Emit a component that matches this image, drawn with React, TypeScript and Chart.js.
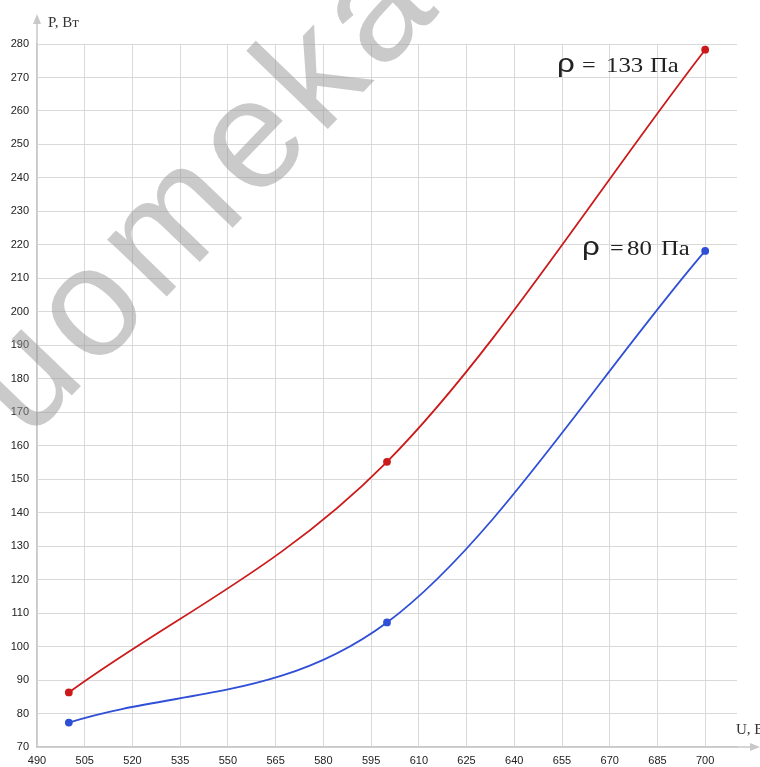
import React, { useEffect, useRef } from "react";
import { Chart, registerables } from "chart.js";

Chart.register(...registerables);

// Data
const voltages = [500, 600, 700]; // U, В
const power133 = [86.3, 155.2, 278.3]; // ρ = 133 Па
const power80 = [77.3, 107.2, 218.2]; // ρ = 80 Па

const xTickValues = [490, 505, 520, 535, 550, 565, 580, 595, 610, 625, 640, 655, 670, 685, 700];
const xMin = 490;
const xMax = 710;
const yMin = 70;
const yMax = 280;
const yStep = 10;

const yTitle = "P, Вт";
const xTitle = "U, В";
const label133 = ["ρ", "=", "133", "Па"];
const label80 = ["ρ", "=", "80", "Па"];
const watermark = "uomeka";

const decorPlugin = {
  id: "decor",
  afterDraw(chart: any) {
    const ctx = chart.ctx as CanvasRenderingContext2D;
    const { left, right, top, bottom } = chart.chartArea;
    ctx.save();

    // watermark
    ctx.save();
    ctx.translate(28, 441);
    ctx.rotate(-Math.PI / 4 - 0.02);
    ctx.font = '156px "Liberation Sans"';
    (ctx as any).letterSpacing = "8px";
    ctx.fillStyle = "rgba(150,150,150,0.5)";
    ctx.textAlign = "left";
    ctx.textBaseline = "alphabetic";
    ctx.fillText(watermark, 0, 0);
    (ctx as any).letterSpacing = "0px";
    ctx.restore();

    // axis arrows
    ctx.strokeStyle = "#c8c8c8";
    ctx.fillStyle = "#c8c8c8";
    ctx.lineWidth = 1.5;
    ctx.beginPath();
    ctx.moveTo(left, top);
    ctx.lineTo(left, 20);
    ctx.moveTo(right, bottom);
    ctx.lineTo(754, bottom);
    ctx.stroke();
    ctx.beginPath();
    ctx.moveTo(left, 14);
    ctx.lineTo(left - 4, 24);
    ctx.lineTo(left + 4, 24);
    ctx.closePath();
    ctx.fill();
    ctx.beginPath();
    ctx.moveTo(760, bottom);
    ctx.lineTo(750, bottom - 4);
    ctx.lineTo(750, bottom + 4);
    ctx.closePath();
    ctx.fill();

    // axis titles
    ctx.fillStyle = "#333";
    ctx.font = '15px "Liberation Serif"';
    ctx.textBaseline = "alphabetic";
    ctx.textAlign = "left";
    ctx.fillText(yTitle, 48, 27);
    ctx.fillText(xTitle, 736, 734);

    // series labels
    const part = (text: string, font: string, x: number, y: number, sx: number) => {
      ctx.save();
      ctx.translate(x, y);
      ctx.scale(sx, 1);
      ctx.font = font;
      ctx.fillText(text, 0, 0);
      ctx.restore();
    };
    const drawLabel = (parts: string[], xs: number[], y: number) => {
      ctx.fillStyle = "#222";
      part(parts[0], '25px "Liberation Sans"', xs[0], y, 1.25);
      part(parts[1], '22px "Liberation Serif"', xs[1], y, 1.1);
      part(parts[2], '22px "Liberation Serif"', xs[2], y, 1.13);
      part(parts[3], '22px "Liberation Serif"', xs[3], y, 1.12);
    };
    drawLabel(label133, [557, 582, 606, 650], 72);
    drawLabel(label80, [582, 610, 627, 661], 255);

    ctx.restore();
  },
};

export default function App() {
  const ref = useRef<HTMLCanvasElement | null>(null);
  useEffect(() => {
    if (!ref.current) return;
    const chart = new Chart(ref.current, {
      type: "scatter",
      data: {
        datasets: [
          {
            label: "ρ = 133 Па",
            data: voltages.map((x, i) => ({ x, y: power133[i] })),
            showLine: true,
            borderColor: "#cc1a1a",
            backgroundColor: "#cc1a1a",
            borderWidth: 1.8,
            pointRadius: 3,
            pointHoverRadius: 3,
            cubicInterpolationMode: "monotone",
          },
          {
            label: "ρ = 80 Па",
            data: voltages.map((x, i) => ({ x, y: power80[i] })),
            showLine: true,
            borderColor: "#2f4fd6",
            backgroundColor: "#2f4fd6",
            borderWidth: 1.8,
            pointRadius: 3,
            pointHoverRadius: 3,
            cubicInterpolationMode: "monotone",
          },
        ],
      },
      options: {
        animation: false,
        responsive: false,
        maintainAspectRatio: false,
        layout: { padding: { top: 44, right: 23, left: 0, bottom: 0 } },
        plugins: { legend: { display: false }, tooltip: { enabled: false } },
        scales: {
          x: {
            type: "linear",
            min: xMin,
            max: xMax,
            afterFit: (s: any) => {
              s.height = 20;
            },
            afterBuildTicks: (s: any) => {
              s.ticks = xTickValues.map((v) => ({ value: v }));
            },
            ticks: {
              padding: 7,
              color: "#222",
              font: { family: "Liberation Sans", size: 11 },
              maxRotation: 0,
              autoSkip: false,
            },
            grid: { color: "#d9d9d9", drawTicks: false, lineWidth: 1 },
            border: { color: "#c8c8c8", width: 1.5 },
          },
          y: {
            min: yMin,
            max: yMax,
            afterFit: (s: any) => {
              s.width = 37;
            },
            ticks: {
              stepSize: yStep,
              padding: 8,
              color: "#222",
              font: { family: "Liberation Sans", size: 11 },
            },
            grid: { color: "#d9d9d9", drawTicks: false, lineWidth: 1 },
            border: { color: "#c8c8c8", width: 1.5 },
          },
        },
      },
      plugins: [decorPlugin],
    });
    return () => chart.destroy();
  }, []);
  return (
    <div style={{ position: "fixed", left: 0, top: 0, width: 760, height: 767, background: "#fff" }}>
      <canvas ref={ref} width={760} height={767} style={{ width: 760, height: 767 }} />
    </div>
  );
}
